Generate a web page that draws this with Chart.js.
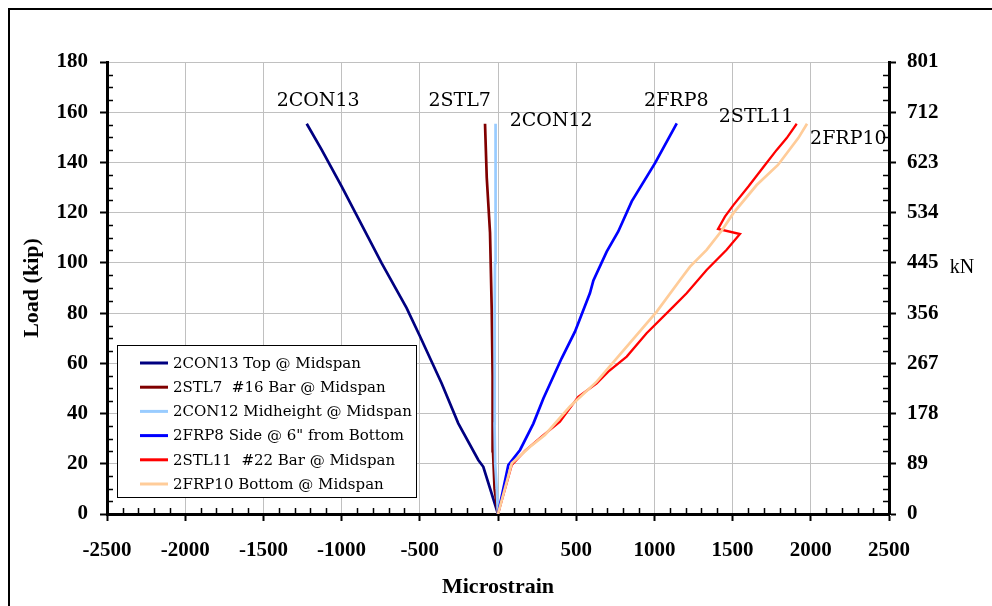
<!DOCTYPE html>
<html>
<head>
<meta charset="utf-8">
<script src="https://cdn.jsdelivr.net/npm/chart.js@4.4.0/dist/chart.umd.min.js"></script>
<style>
  html, body { margin: 0; padding: 0; background: #fff; }
</style>
</head>
<body>
<canvas id="myChart" width="992" height="606"></canvas>
<script>
'use strict';

// series: strain (microstrain) and load (kip)
var con13Strain = [0, -94, -126, -254, -360, -499, -584, -744, -904, -999, -1127, -1223];
var con13Load   = [0, 18.8, 21.5, 36.1, 52, 70.8, 82, 99.9, 119, 130.4, 145, 155.4];

var stl7Strain = [0, -22, -32, -33, -36, -40, -51, -72, -83];
var stl7Load   = [0, 10, 25, 36, 55, 81, 112, 134, 155.4];

var con12Strain = [0, -8, -18, -22, -22, -20, -19, -18, -17, -14, -13];
var con12Load   = [0, 10, 20, 36, 60, 80, 100, 120, 136, 140, 155.4];

var frp8Strain = [0, 66, 141, 226, 290, 407, 492, 588, 610, 695, 769, 855, 1004, 1143];
var frp8Load   = [0, 19.5, 25.5, 36, 46, 62, 72.6, 88, 93, 104.5, 112.5, 124.5, 139.7, 155.6];

var stl11Strain = [0, 88, 173, 279, 396, 513, 631, 705, 823, 950, 1121, 1206, 1334, 1462, 1547, 1407, 1451, 1505, 1601, 1707, 1782, 1846, 1910];
var stl11Load   = [0, 19.5, 25.2, 30.8, 36.8, 46.7, 52, 56.7, 62.7, 72, 82.6, 87.9, 97.2, 105.2, 111.5, 113.5, 118.4, 123, 130.4, 139, 145, 149.7, 155.4];

var frp10Strain = [0, 88, 205, 300, 460, 631, 823, 1015, 1164, 1228, 1334, 1432, 1505, 1654, 1790, 1920, 1976];
var frp10Load   = [0, 20.2, 26.8, 31.5, 42.8, 52.7, 66.7, 80.6, 93.2, 98.5, 105.2, 113, 119.8, 131, 139, 149.7, 155.4];

var seriesNames = ['2CON13 Top @ Midspan', '2STL7  #16 Bar @ Midspan', '2CON12 Midheight @ Midspan',
                   '2FRP8 Side @ 6" from Bottom', '2STL11  #22 Bar @ Midspan', '2FRP10 Bottom @ Midspan'];
var seriesColors = ['#000080', '#800000', '#99CCFF', '#0000FF', '#FF0000', '#FFCC99'];

var kNLabels = ['0', '89', '178', '267', '356', '445', '534', '623', '712', '801'];

// text labels on the plot, placed at (strain, load)
var tagText   = ['2CON13', '2STL7', '2CON12', '2FRP8', '2STL11', '2FRP10'];
var tagStrain = [-1150, -245, 340, 1140, 1650, 2240];
var tagLoad   = [164.5, 164.5, 156.5, 164.5, 158, 149.5];

function pts(xs, ys) {
    var out = [];
    for (var i = 0; i < xs.length; i++) out.push({x: xs[i], y: ys[i]});
    return out;
}

var allData = [
    pts(con13Strain, con13Load), pts(stl7Strain, stl7Load), pts(con12Strain, con12Load),
    pts(frp8Strain, frp8Load), pts(stl11Strain, stl11Load), pts(frp10Strain, frp10Load)
];

var datasets = allData.map(function(d, i) {
    return {
        label: seriesNames[i],
        data: d,
        showLine: true,
        borderColor: seriesColors[i],
        backgroundColor: seriesColors[i],
        borderWidth: i === 4 ? 2.3 : 2.7,
        pointRadius: 0,
        tension: 0,
        order: 6 - i // later series drawn on top, like the original
    };
});

var TICK_FONT = {family: 'Liberation Serif', size: 21, weight: 'bold'};

// frame, minor ticks, legend box, plot labels
var extras = {
    id: 'extras',
    afterDraw: function(chart) {
        var ctx = chart.ctx;
        var xs = chart.scales.x, ys = chart.scales.y;
        var a = chart.chartArea;
        ctx.save();

        // minor ticks (inside)
        ctx.strokeStyle = '#000';
        ctx.lineWidth = 1.5;
        ctx.beginPath();
        for (var v = -2500; v <= 2500; v += 100) {
            if (v % 500 === 0) continue;
            var px = Math.round(xs.getPixelForValue(v)) + 0.5;
            ctx.moveTo(px, a.bottom); ctx.lineTo(px, a.bottom - 6);
        }
        for (var k = 0; k <= 180; k += 5) {
            if (k % 20 === 0) continue;
            var py = Math.round(ys.getPixelForValue(k)) + 0.5;
            ctx.moveTo(a.left, py); ctx.lineTo(a.left + 6, py);
            ctx.moveTo(a.right, py); ctx.lineTo(a.right - 6, py);
        }
        ctx.stroke();

        // outer frame
        ctx.lineWidth = 2;
        ctx.strokeRect(9, 9, 1000, 1000);

        // kN unit label
        ctx.fillStyle = '#000';
        ctx.font = '20px "Liberation Serif"';
        ctx.textAlign = 'center';
        ctx.textBaseline = 'middle';
        ctx.fillText('kN', 962, 268);

        // labels on the plot
        ctx.font = '19px "DejaVu Serif"';
        for (var t = 0; t < tagText.length; t++) {
            ctx.fillText(tagText[t], xs.getPixelForValue(tagStrain[t]), ys.getPixelForValue(tagLoad[t]));
        }

        // legend
        var lx = 117, ly = 345, lw = 299, lh = 152;
        ctx.fillStyle = '#fff';
        ctx.fillRect(lx, ly, lw, lh);
        ctx.lineWidth = 1;
        ctx.strokeStyle = '#000';
        ctx.strokeRect(lx + 0.5, ly + 0.5, lw, lh);
        ctx.font = '15px "DejaVu Serif"';
        ctx.textAlign = 'left';
        for (var i = 0; i < seriesNames.length; i++) {
            var ry = ly + 18 + i * 24.2;
            ctx.strokeStyle = seriesColors[i];
            ctx.lineWidth = 3;
            ctx.beginPath();
            ctx.moveTo(140, ry); ctx.lineTo(168, ry);
            ctx.stroke();
            ctx.fillStyle = '#000';
            ctx.fillText(seriesNames[i], 173, ry + 1);
        }
        ctx.restore();
    }
};

var ctx = document.getElementById('myChart').getContext('2d');
var myChart = new Chart(ctx, {
    type: 'scatter',
    data: {datasets: datasets},
    options: {
        responsive: false,
        animation: false,
        devicePixelRatio: 1,
        layout: {padding: {top: 62, left: 0, right: 0, bottom: 0}},
        plugins: {legend: {display: false}, tooltip: {enabled: false}},
        scales: {
            x: {
                type: 'linear',
                min: -2500, max: 2500,
                afterFit: function(s) { s.height = 92; },
                ticks: {stepSize: 500, font: TICK_FONT, color: '#000', padding: 17, maxRotation: 0,
                        callback: function(v) { return String(v); }},
                grid: {color: '#c0c0c0', lineWidth: 1, tickColor: '#000', tickLength: 7, tickWidth: 2},
                border: {color: '#000', width: 3},
                title: {display: true, text: 'Microstrain', color: '#000',
                        font: {family: 'Liberation Serif', size: 22, weight: 'bold'}, padding: {top: 4, bottom: 5}}
            },
            y: {
                type: 'linear', position: 'left',
                min: 0, max: 180,
                afterFit: function(s) { s.width = 107; },
                ticks: {stepSize: 20, font: TICK_FONT, color: '#000', padding: 12,
                        callback: function(v) { return String(v); }},
                grid: {color: '#c0c0c0', lineWidth: 1, tickColor: '#000', tickLength: 7, tickWidth: 2},
                border: {color: '#000', width: 3},
                title: {display: true, text: 'Load (kip)', color: '#000',
                        font: {family: 'Liberation Serif', size: 22, weight: 'bold'}, padding: {top: 19, bottom: 0}}
            },
            y2: {
                type: 'linear', position: 'right',
                min: 0, max: 180,
                afterFit: function(s) { s.width = 103; },
                ticks: {stepSize: 20, font: TICK_FONT, color: '#000', padding: 11,
                        callback: function(v, idx) { return kNLabels[idx]; }},
                grid: {drawOnChartArea: false, tickColor: '#000', tickLength: 7, tickWidth: 2},
                border: {color: '#000', width: 3}
            }
        }
    },
    plugins: [extras]
});
</script>
</body>
</html>
